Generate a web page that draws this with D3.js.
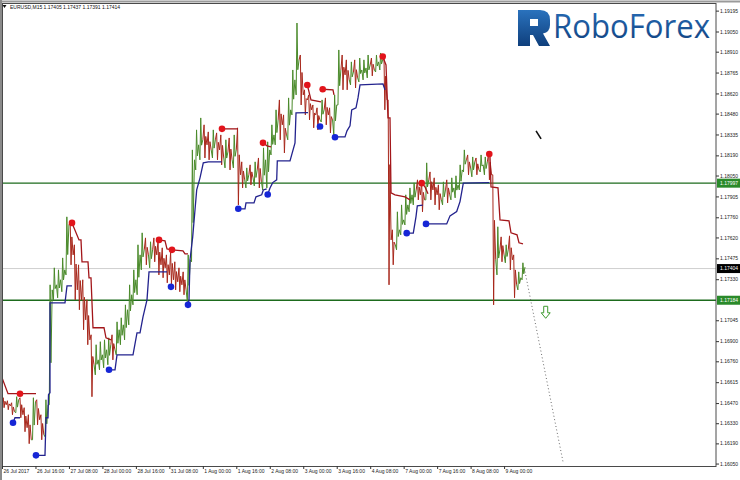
<!DOCTYPE html>
<html>
<head>
<meta charset="utf-8">
<script src="https://cdn.jsdelivr.net/npm/d3@7"></script>
<style>
  html, body { margin: 0; padding: 0; background: #fff; }
  svg { display: block; }
</style>
</head>
<body>
<div id="chart"></div>
<script>
// ---- data (EURUSD M15, aggregated to 2-hour bars) ----
const symbolHeader = "EURUSD,M15  1.17405 1.17437 1.17391 1.17414";
const barHours = 2;               // hours per bar
const firstOpen = 1.16480;

const highs = [
  1.16507,1.16486,1.16472,1.16514,1.16507,1.16438,1.16389,1.16507,1.16493,1.16389,
  1.16493,1.17291,1.17409,1.17395,1.17478,1.17763,1.17728,1.17569,1.17430,1.17326,
  1.17187,1.16944,1.16875,1.16896,1.16909,1.16923,1.16944,1.17034,1.17062,1.17152,
  1.17291,1.17395,1.17569,1.17652,1.17617,1.17590,1.17617,1.17603,1.17548,1.17499,
  1.17520,1.17451,1.17409,1.17381,1.17499,1.18228,1.18367,1.18450,1.18402,1.18353,
  1.18367,1.18346,1.18332,1.18298,1.18311,1.18332,1.18381,1.18145,1.18103,1.18124,
  1.18145,1.18172,1.18242,1.18284,1.18402,1.18506,1.18575,1.18471,1.18589,1.18783,
  1.19109,1.18887,1.18645,1.18610,1.18540,1.18520,1.18575,1.18589,1.18520,1.18610,
  1.18922,1.18887,1.18853,1.18839,1.18853,1.18866,1.18853,1.18887,1.18866,1.18887,
  1.18901,1.18866,1.18575,1.17673,1.17798,1.17846,1.17916,1.17964,1.17999,1.18020,
  1.18006,1.18138,1.18075,1.18034,1.17985,1.18006,1.18020,1.18034,1.18048,1.18124,
  1.18228,1.18193,1.18179,1.18172,1.18193,1.18179,1.18207,1.18055,1.17694,1.17624,
  1.17569,1.17631,1.17499,1.17381,1.17444
];
const lows = [
  1.16438,1.16424,1.16389,1.16403,1.16368,1.16271,1.16188,1.16215,1.16319,1.16215,
  1.16236,1.16458,1.17187,1.17201,1.17243,1.17360,1.17430,1.17187,1.17118,1.16979,
  1.16875,1.16514,1.16666,1.16701,1.16715,1.16736,1.16770,1.16805,1.16875,1.16909,
  1.17013,1.17152,1.17222,1.17395,1.17430,1.17409,1.17451,1.17360,1.17340,1.17305,
  1.17291,1.17256,1.17243,1.17222,1.17173,1.17451,1.18089,1.18159,1.18172,1.18159,
  1.18172,1.18159,1.18124,1.18103,1.18089,1.18103,1.17846,1.17964,1.17964,1.17985,
  1.17978,1.17964,1.17950,1.17964,1.18193,1.18263,1.18298,1.18207,1.18298,1.18471,
  1.18610,1.18540,1.18471,1.18436,1.18381,1.18367,1.18422,1.18402,1.18346,1.18332,
  1.18540,1.18645,1.18645,1.18679,1.18658,1.18700,1.18714,1.18728,1.18742,1.18769,
  1.18783,1.18506,1.17291,1.17430,1.17534,1.17638,1.17707,1.17798,1.17846,1.17881,
  1.17798,1.17881,1.17881,1.17846,1.17812,1.17846,1.17860,1.17881,1.17895,1.17950,
  1.18075,1.18055,1.18041,1.18055,1.18075,1.18055,1.18020,1.17152,1.17360,1.17451,
  1.17444,1.17395,1.17201,1.17256,1.17326
];
const closes = [
  1.16458,1.16451,1.16410,1.16493,1.16389,1.16299,1.16215,1.16479,1.16354,1.16250,
  1.16458,1.17256,1.17291,1.17326,1.17395,1.17707,1.17499,1.17256,1.17187,1.17048,
  1.16909,1.16736,1.16770,1.16805,1.16840,1.16875,1.16840,1.16979,1.17013,1.17118,
  1.17222,1.17326,1.17499,1.17534,1.17499,1.17534,1.17499,1.17430,1.17409,1.17360,
  1.17326,1.17312,1.17291,1.17256,1.17465,1.18159,1.18263,1.18298,1.18263,1.18228,
  1.18298,1.18228,1.18172,1.18214,1.18159,1.18228,1.18055,1.18020,1.18055,1.18034,
  1.18089,1.18006,1.18159,1.18228,1.18332,1.18436,1.18402,1.18332,1.18506,1.18714,
  1.18853,1.18610,1.18575,1.18506,1.18471,1.18436,1.18506,1.18471,1.18436,1.18540,
  1.18783,1.18749,1.18714,1.18769,1.18728,1.18783,1.18797,1.18818,1.18783,1.18839,
  1.18853,1.18575,1.17603,1.17569,1.17673,1.17742,1.17846,1.17916,1.17950,1.17916,
  1.17881,1.18020,1.17950,1.17916,1.17881,1.17950,1.17916,1.17964,1.17985,1.18089,
  1.18159,1.18103,1.18145,1.18089,1.18124,1.18145,1.18055,1.17465,1.17534,1.17499,
  1.17534,1.17465,1.17291,1.17340,1.17414
];

// trailing stop lines: [hour index, price]
const redLines = [
  [[0,1.16646],[2.87,1.16535],[16.25,1.16535]],
  [[33.46,1.17721],[36.81,1.17603],[37.76,1.17603],[38.24,1.17451],[41.11,1.17451],[41.59,1.17340],[42.54,1.17340],[43.5,1.16993],[48.76,1.16993],[49.71,1.16923],[52.1,1.16909]],
  [[75.05,1.17603],[77.92,1.17596],[78.87,1.17541],[81.26,1.17534],[86.52,1.17527],[87.48,1.17506],[88.91,1.17506]],
  [[105.16,1.18374],[112.81,1.18374]],
  [[124.76,1.18277],[126.67,1.18256],[128.59,1.18249]],
  [[145.94,1.18679],[147.7,1.18575],[152.49,1.18561]],
  [[153.3,1.18649],[158.22,1.18645],[158.7,1.18610]],
  [[181.98,1.18876],[183.56,1.18818],[184.51,1.18450],[185.47,1.18450],[185.95,1.17930],[187.86,1.17916],[192.64,1.17902],[195.03,1.17881]],
  [[200.62,1.17997],[202.2,1.17971],[203.63,1.17923]],
  [[232.93,1.18200],[233.27,1.18179],[233.75,1.17971],[237.1,1.17964],[238.05,1.17742],[242.35,1.17735],[243.31,1.17652],[246.18,1.17638],[247.13,1.17583],[249.04,1.17576]]
];
const blueLines = [
  [[5.26,1.16333],[6.21,1.16368],[8.6,1.16368]],
  [[16.25,1.16107],[20.55,1.16107],[21.03,1.16368],[21.99,1.16368],[22.23,1.16528],[22.94,1.16542],[22.94,1.17166],[30.11,1.17166],[31.07,1.17284],[33.46,1.17284]],
  [[51.15,1.16701],[54.02,1.16701],[54.97,1.16805],[62.62,1.16805],[64.53,1.16958],[65.97,1.16958],[67.4,1.17069],[69.31,1.17187],[70.27,1.17381],[78.87,1.17381]],
  [[88.91,1.17152],[89.39,1.17187],[89.87,1.17465],[91.16,1.17624],[92.26,1.17812],[93.07,1.17950],[94.65,1.18034],[96.22,1.18138],[98.61,1.18145],[105.02,1.18145]],
  [[112.95,1.17819],[116.16,1.17819],[116.63,1.17860],[120.46,1.17860],[121.41,1.17902],[124.14,1.17916],[124.9,1.17950],[126.53,1.17957]],
  [[127.01,1.17918],[128.11,1.17964],[129.4,1.18001],[131.31,1.18020],[131.6,1.18152],[137.67,1.18152],[140.06,1.18277],[140.54,1.18485],[146.27,1.18487]],
  [[159.18,1.18318],[163.96,1.18318],[164.91,1.18360],[166.35,1.18395],[167.16,1.18506],[169.22,1.18520],[170.17,1.18589],[171.13,1.18679],[182.12,1.18686],[183.08,1.18645]],
  [[193.45,1.17650],[196.61,1.17650],[197.9,1.17765],[198.52,1.17839],[201.1,1.17844]],
  [[202.68,1.17714],[212.57,1.17714],[214.15,1.17770],[217.35,1.17800],[218.93,1.17869],[220.51,1.17997],[232.93,1.18001]]
];
const redDots = [[8.6,1.16535],[33.46,1.17721],[75.05,1.17603],[81.26,1.17534],[105.16,1.18374],[124.76,1.18277],[145.94,1.18679],[153.3,1.18649],[181.98,1.18876],[200.62,1.17997],[232.93,1.18200]];
const blueDots = [[5.26,1.16333],[16.25,1.16107],[51.15,1.16701],[80.78,1.17277],[88.91,1.17152],[112.95,1.17819],[127.01,1.17918],[152.01,1.18390],[159.18,1.18316],[193.45,1.17650],[202.68,1.17714]];

const projection = [[250.0,1.17383],[268.16,1.16063]];
const arrowAt = [259.9, 1.17142];
const markAt = [255.3, 1.18360];

const resistance = 1.17997;
const support = 1.17184;
const bidPrice = 1.17404;

const yTicks = [1.19195,1.19050,1.18910,1.18765,1.18620,1.18480,1.18335,1.18190,1.18050,1.17905,1.17760,1.17620,1.17475,1.17330,1.17045,1.16900,1.16760,1.16615,1.16470,1.16330,1.16190,1.16050];
const xTickHours = [0,16,32,48,64,80,96,112,128,144,160,176,192,208,224,240];
const xLabels = ["26 Jul 2017","26 Jul 16:00","27 Jul 08:00","28 Jul 00:00","28 Jul 16:00","31 Jul 08:00","1 Aug 00:00","1 Aug 16:00","2 Aug 08:00","3 Aug 00:00","3 Aug 16:00","4 Aug 08:00","7 Aug 00:00","7 Aug 16:00","8 Aug 08:00","9 Aug 00:00"];

// ---- layout ----
const width = 740, height = 480;
const plot = {left: 2, right: 716, top: 3, bottom: 466};
const font = "'Liberation Sans', Arial, sans-serif";
const upColor = "#4a8a2a", downColor = "#a8281c";
const levelColor = "#1d6b1d";

const svg = d3.select("#chart").append("svg")
    .attr("width", width)
    .attr("height", height);

const x = d3.scaleLinear().domain([0, 341.3]).range([plot.left, plot.right]);
const y = d3.scaleLinear().domain([1.16033, 1.19248]).range([plot.bottom, plot.top]);

const defs = svg.append("defs");
defs.append("clipPath").attr("id", "plotclip").append("rect")
    .attr("x", plot.left).attr("y", plot.top)
    .attr("width", plot.right - plot.left).attr("height", plot.bottom - plot.top);

const logoGrad = defs.append("linearGradient").attr("id", "logograd")
    .attr("x1", 0).attr("y1", 0).attr("x2", 0).attr("y2", 1);
logoGrad.append("stop").attr("offset", "0%").attr("stop-color", "#2a72bd");
logoGrad.append("stop").attr("offset", "100%").attr("stop-color", "#0f3f7c");

// window frame
svg.append("line").attr("x1", 0).attr("x2", width).attr("y1", 1.5).attr("y2", 1.5)
    .attr("stroke", "#9a9a9a").attr("stroke-width", 2);
svg.append("line").attr("x1", 1).attr("x2", 1).attr("y1", 0).attr("y2", height)
    .attr("stroke", "#8a8a8a").attr("stroke-width", 2);

const g = svg.append("g").attr("clip-path", "url(#plotclip)");

// bid line
g.append("line")
    .attr("x1", plot.left).attr("x2", plot.right)
    .attr("y1", y(bidPrice)).attr("y2", y(bidPrice))
    .attr("stroke", "#cfcfcf").attr("stroke-width", 1);

// support / resistance
g.selectAll(".level").data([resistance, support]).join("line")
    .attr("class", "level")
    .attr("x1", plot.left).attr("x2", plot.right)
    .attr("y1", d => y(d)).attr("y2", d => y(d))
    .attr("stroke", levelColor).attr("stroke-width", 1.3);

// candles as dense zigzag (open -> extreme -> extreme -> close)
const bars = closes.map((c, i) => {
    const open = i === 0 ? firstOpen : closes[i - 1];
    return {
        t: i * barHours + barHours / 2,
        open: open,
        close: c,
        high: Math.max(highs[i], open, c),
        low: Math.min(lows[i], open, c)
    };
});
const half = (x(barHours) - x(0)) / 2;
const zig = d3.line().x(d => d[0]).y(d => y(d[1]));

g.selectAll(".bar").data(bars).join("path")
    .attr("class", "bar")
    .attr("fill", "none")
    .attr("stroke", d => d.close >= d.open ? upColor : downColor)
    .attr("stroke-width", 1)
    .attr("d", d => {
        const cx = x(d.t);
        const up = d.close >= d.open;
        return zig([
            [cx - half, d.open],
            [cx - half * 0.4, up ? d.low : d.high],
            [cx, up ? d.high : d.low],
            [cx + half * 0.4, up ? d.low + (d.high - d.low) * 0.35 : d.high - (d.high - d.low) * 0.35],
            [cx + half, d.close]
        ]);
    });

// trailing stop lines
const stepLine = d3.line().x(d => x(d[0])).y(d => y(d[1]));

g.selectAll(".red-line").data(redLines).join("path")
    .attr("class", "red-line")
    .attr("fill", "none")
    .attr("stroke", "#a3161a")
    .attr("stroke-width", 1.3)
    .attr("d", stepLine);

g.selectAll(".blue-line").data(blueLines).join("path")
    .attr("class", "blue-line")
    .attr("fill", "none")
    .attr("stroke", "#23238e")
    .attr("stroke-width", 1.3)
    .attr("d", stepLine);

g.selectAll(".red-dot").data(redDots).join("circle")
    .attr("class", "red-dot")
    .attr("cx", d => x(d[0])).attr("cy", d => y(d[1]))
    .attr("r", 3.3)
    .attr("fill", "#e2141b");

g.selectAll(".blue-dot").data(blueDots).join("circle")
    .attr("class", "blue-dot")
    .attr("cx", d => x(d[0])).attr("cy", d => y(d[1]))
    .attr("r", 3.3)
    .attr("fill", "#1626d6");

// projected path
g.append("path")
    .attr("d", stepLine(projection))
    .attr("fill", "none")
    .attr("stroke", "#6a6a6a")
    .attr("stroke-width", 1)
    .attr("stroke-dasharray", "1,2.5");

// down arrow
g.append("path")
    .attr("transform", `translate(${x(arrowAt[0])},${y(arrowAt[1])})`)
    .attr("d", "M-2,0H2V6.5H4.5L0,12L-4.5,6.5H-2Z")
    .attr("fill", "#fff")
    .attr("stroke", "#3d9a2e")
    .attr("stroke-width", 1);

// small black mark
g.append("path")
    .attr("transform", `translate(${x(markAt[0])},${y(markAt[1])})`)
    .attr("d", "M0,0Q1.5,2.5 5,8")
    .attr("fill", "none")
    .attr("stroke", "#111")
    .attr("stroke-width", 1.6);

// plot frame
svg.append("rect")
    .attr("x", plot.left + 0.5).attr("y", plot.top + 0.5)
    .attr("width", plot.right - plot.left - 0.5).attr("height", plot.bottom - plot.top)
    .attr("fill", "none").attr("stroke", "#4a4a4a").attr("stroke-width", 1);

// right price axis
const yAxis = svg.append("g")
    .attr("transform", `translate(${plot.right},0)`)
    .call(d3.axisRight(y).tickValues(yTicks).tickSize(3).tickFormat(d3.format(".5f")))
    .attr("font-family", font)
    .attr("font-size", 5)
    .style("color", "#333");
yAxis.select(".domain").remove();
yAxis.selectAll("text").attr("x", 4).attr("fill", "#222");

// time axis
const xAxis = svg.append("g")
    .attr("transform", `translate(0,${plot.bottom})`)
    .call(d3.axisBottom(x).tickValues(xTickHours).tickSize(3).tickFormat((d, i) => xLabels[i]))
    .attr("font-family", font)
    .attr("font-size", 5)
    .style("color", "#333");
xAxis.select(".domain").remove();
xAxis.selectAll("text")
    .attr("text-anchor", "start")
    .attr("x", 1)
    .attr("y", 3.5)
    .attr("fill", "#222");

// price boxes on the axis
const boxes = [
    {v: resistance, fill: "#2a8a2a"},
    {v: bidPrice, fill: "#000"},
    {v: support, fill: "#2a8a2a"}
];
const boxG = svg.selectAll(".pbox").data(boxes).join("g")
    .attr("class", "pbox")
    .attr("transform", d => `translate(${plot.right + 1},${y(d.v)})`);
boxG.append("rect")
    .attr("x", 0).attr("y", -4.5).attr("width", 23).attr("height", 9)
    .attr("fill", d => d.fill);
boxG.append("text")
    .attr("x", 3).attr("y", 0).attr("dy", "0.35em")
    .attr("font-family", font).attr("font-size", 5)
    .attr("fill", "#fff")
    .text(d => d3.format(".5f")(d.v));

// header
svg.append("path").attr("d", "M2.5,5H6.5L4.5,8Z").attr("fill", "#111");
svg.append("text")
    .attr("x", 10).attr("y", 8.6)
    .attr("font-family", font).attr("font-size", 5)
    .attr("fill", "#111")
    .text(symbolHeader);

// logo
const logo = svg.append("g").attr("transform", "translate(518,10)");
logo.append("path")
    .attr("d", "M0,0H22Q32,0 32,10V15Q32,22 25,23.5L32,36H21L15,25H12V36H0Z M12,9H20V16H12Z")
    .attr("fill-rule", "evenodd")
    .attr("fill", "url(#logograd)");
svg.append("text")
    .attr("x", 553).attr("y", 37.5)
    .attr("font-family", "'Open Sans', 'Noto Sans', sans-serif")
    .attr("font-size", 32)
    .attr("textLength", 157)
    .attr("lengthAdjust", "spacingAndGlyphs")
    .attr("fill", "url(#logograd)")
    .text("RoboForex");
</script>
</body>
</html>
